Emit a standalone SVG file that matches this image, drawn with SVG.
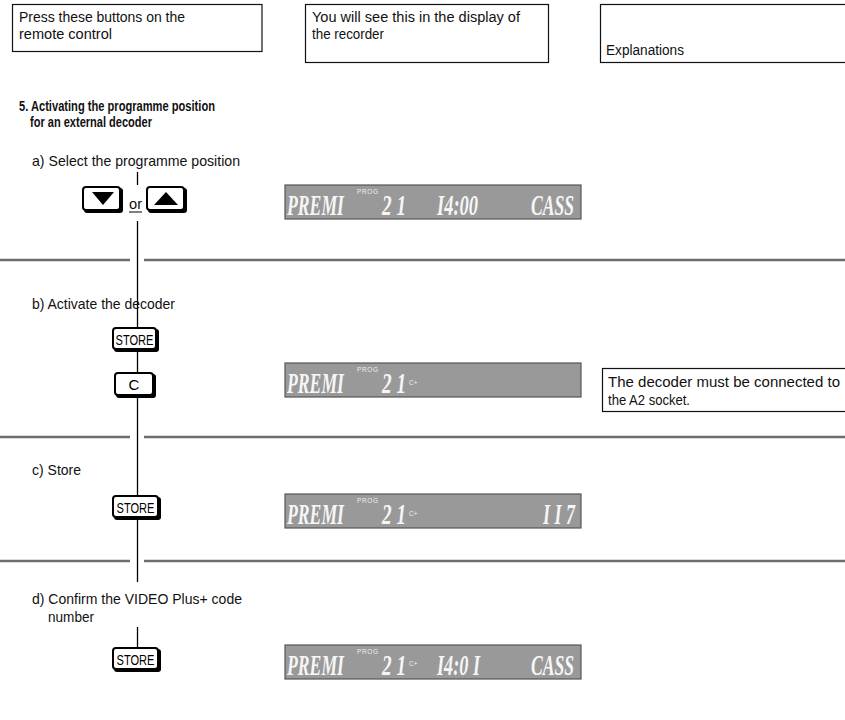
<svg xmlns="http://www.w3.org/2000/svg" width="845" height="720" viewBox="0 0 845 720">
<defs>
<style>
.t{font-family:"Liberation Sans",Arial,sans-serif;font-size:15px;fill:#111}
.h{font-size:14px}
.b{font-weight:bold;font-size:14px}
.hdr{fill:#fff;stroke:#111;stroke-width:1.2}
.div{stroke:#6e6e6e;stroke-width:2.5}
.conn{stroke:#000;stroke-width:1.3;fill:none}
.sh{fill:#000}
.face{fill:#fff;stroke:#000;stroke-width:2}
.bt{font-family:"Liberation Sans",Arial,sans-serif;font-size:15px;fill:#000;text-anchor:middle}
.pan{fill:#999999;stroke:#555;stroke-width:1.2}
.big{font-family:"Liberation Serif","Times New Roman",serif;font-style:italic;font-weight:bold;font-size:17px;fill:#f6f6f6}
.sm{font-family:"Liberation Sans",Arial,sans-serif;font-size:6.5px;fill:#eeeeee}
</style>
</defs>

<g id="header-buttons">
<rect class="hdr" x="12.5" y="4.5" width="249.5" height="47"/>
<text class="t h" x="19" y="22" textLength="166" lengthAdjust="spacingAndGlyphs">Press these buttons on the</text>
<text class="t h" x="19" y="38.5" textLength="93" lengthAdjust="spacingAndGlyphs">remote control</text>
</g>
<g id="header-display">
<rect class="hdr" x="305.5" y="4.5" width="243" height="58"/>
<text class="t h" x="312" y="22" textLength="208" lengthAdjust="spacingAndGlyphs">You will see this in the display of</text>
<text class="t h" x="312" y="38.5" textLength="72" lengthAdjust="spacingAndGlyphs">the recorder</text>
</g>
<g id="header-explanations">
<rect class="hdr" x="600.5" y="4.5" width="250" height="58"/>
<text class="t h" x="606" y="55" textLength="78" lengthAdjust="spacingAndGlyphs">Explanations</text>
</g>

<g id="title">
<text class="t b" x="19" y="111" textLength="196" lengthAdjust="spacingAndGlyphs">5. Activating the programme position</text>
<text class="t b" x="30" y="127" textLength="122" lengthAdjust="spacingAndGlyphs">for an external decoder</text>
</g>

<g id="dividers">
<line class="div" x1="0" y1="260" x2="130" y2="260"/>
<line class="div" x1="144" y1="260" x2="845" y2="260"/>
<line class="div" x1="0" y1="437" x2="130" y2="437"/>
<line class="div" x1="144" y1="437" x2="845" y2="437"/>
<line class="div" x1="0" y1="561" x2="130" y2="561"/>
<line class="div" x1="144" y1="561" x2="845" y2="561"/>
</g>

<g id="connectors">
<line class="conn" x1="137.5" y1="172" x2="137.5" y2="185"/>
<line class="conn" x1="137.5" y1="221" x2="137.5" y2="327"/>
<line class="conn" x1="137.5" y1="351" x2="137.5" y2="372"/>
<line class="conn" x1="137.5" y1="397" x2="137.5" y2="495"/>
<line class="conn" x1="137.5" y1="520" x2="137.5" y2="582"/>
<line class="conn" x1="137.5" y1="627" x2="137.5" y2="647"/>
</g>

<g id="step-a">
<text class="t" x="32" y="166" textLength="208" lengthAdjust="spacingAndGlyphs">a) Select the programme position</text>
<g id="btn-down">
<rect class="sh" x="84" y="188" width="39" height="25" rx="3"/>
<rect class="face" x="83" y="187" width="37" height="23" rx="3"/>
<polygon points="92,192 114,192 103,205" fill="#000"/>
</g>
<g id="or">
<text class="t" x="129" y="209" textLength="13" lengthAdjust="spacingAndGlyphs">or</text>
<line x1="129" y1="212" x2="142" y2="212" stroke="#000" stroke-width="1"/>
</g>
<g id="btn-up">
<rect class="sh" x="148" y="188" width="39" height="25" rx="3"/>
<rect class="face" x="147" y="187" width="37" height="23" rx="3"/>
<polygon points="154,205 178,205 166,192" fill="#000"/>
</g>
<g id="display-a">
<rect class="pan" x="285" y="185" width="296" height="34"/>
<text class="big" transform="translate(287,215) scale(1,1.75)" textLength="57" lengthAdjust="spacingAndGlyphs">PREMI</text>
<text class="sm" x="357" y="194" textLength="21" lengthAdjust="spacing">PROG</text>
<text class="big" transform="translate(382,215) scale(1,1.75)" textLength="24" lengthAdjust="spacingAndGlyphs">2 1</text>
<text class="big" transform="translate(437,215) scale(1,1.75)" textLength="41" lengthAdjust="spacingAndGlyphs">I4:00</text>
<text class="big" transform="translate(531,215) scale(1,1.75)" textLength="43" lengthAdjust="spacingAndGlyphs">CASS</text>
</g>
</g>

<g id="step-b">
<text class="t" x="32" y="309" textLength="143" lengthAdjust="spacingAndGlyphs">b) Activate the decoder</text>
<g id="btn-store-b">
<rect class="sh" x="114" y="329" width="45" height="23" rx="3"/>
<rect class="face" x="113" y="328" width="43" height="21" rx="3"/>
<text class="bt" x="134.5" y="345" textLength="38" lengthAdjust="spacingAndGlyphs">STORE</text>
</g>
<g id="btn-c">
<rect class="sh" x="116" y="374" width="40" height="24" rx="3"/>
<rect class="face" x="115" y="373" width="38" height="22" rx="3"/>
<text class="bt" x="134" y="390">C</text>
</g>
<g id="display-b">
<rect class="pan" x="285" y="363" width="296" height="34"/>
<text class="big" transform="translate(287,393) scale(1,1.75)" textLength="57" lengthAdjust="spacingAndGlyphs">PREMI</text>
<text class="sm" x="357" y="372" textLength="21" lengthAdjust="spacing">PROG</text>
<text class="big" transform="translate(382,393) scale(1,1.75)" textLength="24" lengthAdjust="spacingAndGlyphs">2 1</text>
<text class="sm" x="409" y="385">C+</text>
</g>
<g id="explanation-b">
<rect class="hdr" x="602.5" y="368.5" width="250" height="43"/>
<text class="t" x="608" y="387" textLength="232" lengthAdjust="spacing">The decoder must be connected to</text>
<text class="t" x="608" y="405" textLength="82" lengthAdjust="spacingAndGlyphs">the A2 socket.</text>
</g>
</g>

<g id="step-c">
<text class="t" x="32" y="475" textLength="49" lengthAdjust="spacingAndGlyphs">c) Store</text>
<g id="btn-store-c">
<rect class="sh" x="114" y="497" width="47" height="23" rx="3"/>
<rect class="face" x="113" y="496" width="45" height="21" rx="3"/>
<text class="bt" x="135.5" y="513" textLength="38" lengthAdjust="spacingAndGlyphs">STORE</text>
</g>
<g id="display-c">
<rect class="pan" x="285" y="494" width="296" height="34"/>
<text class="big" transform="translate(287,524) scale(1,1.75)" textLength="57" lengthAdjust="spacingAndGlyphs">PREMI</text>
<text class="sm" x="357" y="503" textLength="21" lengthAdjust="spacing">PROG</text>
<text class="big" transform="translate(382,524) scale(1,1.75)" textLength="24" lengthAdjust="spacingAndGlyphs">2 1</text>
<text class="sm" x="409" y="516">C+</text>
<text class="big" transform="translate(543,524) scale(1,1.75)" textLength="32" lengthAdjust="spacingAndGlyphs">I I 7</text>
</g>
</g>

<g id="step-d">
<text class="t" x="32" y="604" textLength="210" lengthAdjust="spacingAndGlyphs">d) Confirm the VIDEO Plus+ code</text>
<text class="t" x="48" y="622" textLength="46" lengthAdjust="spacingAndGlyphs">number</text>
<g id="btn-store-d">
<rect class="sh" x="114" y="649" width="47" height="23" rx="3"/>
<rect class="face" x="113" y="648" width="45" height="21" rx="3"/>
<text class="bt" x="135.5" y="665" textLength="38" lengthAdjust="spacingAndGlyphs">STORE</text>
</g>
<g id="display-d">
<rect class="pan" x="285" y="645" width="296" height="34"/>
<text class="big" transform="translate(287,675) scale(1,1.75)" textLength="57" lengthAdjust="spacingAndGlyphs">PREMI</text>
<text class="sm" x="357" y="654" textLength="21" lengthAdjust="spacing">PROG</text>
<text class="big" transform="translate(382,675) scale(1,1.75)" textLength="24" lengthAdjust="spacingAndGlyphs">2 1</text>
<text class="sm" x="409" y="666">C+</text>
<text class="big" transform="translate(437,675) scale(1,1.75)" textLength="43" lengthAdjust="spacingAndGlyphs">I4:0 I</text>
<text class="big" transform="translate(531,675) scale(1,1.75)" textLength="43" lengthAdjust="spacingAndGlyphs">CASS</text>
</g>
</g>
</svg>
